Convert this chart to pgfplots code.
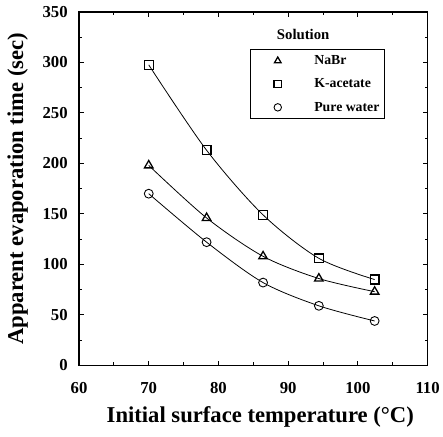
\documentclass[border=0pt]{standalone}
\usepackage{pgfplots}
\pgfplotsset{compat=1.18}
\usepackage{fontspec}
\setmainfont{Liberation Serif}
\begin{document}
\begin{tikzpicture}
\begin{axis}[
  scale only axis,
  width=353bp, height=358bp,
  xmin=60, xmax=110, ymin=0, ymax=350,
  xtick={60,70,...,110}, ytick={0,50,...,350},
  minor xtick={65,75,...,105}, minor ytick={25,75,...,325},
  tick align=inside, ticks=both,
  major tick length=5pt, minor tick length=3pt,
  axis line style={line width=1.6pt},
  every tick/.style={line width=1pt, black},
  /pgf/number format/assume math mode=true,
  ticklabel style={font=\fontsize{17}{17}\selectfont\bfseries},
  xticklabel style={yshift=-14pt},
  yticklabel style={xshift=-8pt},
  xlabel={Initial surface temperature (\textdegree C)},
  ylabel={Apparent evaporation time (sec)},
  xlabel style={font=\fontsize{23}{23}\selectfont\bfseries, at={(axis description cs:0.52,0)}, anchor=north, yshift=-38bp},
  ylabel style={font=\fontsize{23}{23}\selectfont\bfseries, yshift=8pt},
  legend style={at={(0.49,0.894)}, anchor=north west, draw=black, line width=0.6pt,
    font=\fontsize{14}{14}\selectfont\bfseries, row sep=9pt,
    inner xsep=3pt, inner ysep=4pt},
  legend cell align=left,
  legend image code/.code={\path[draw=none] (0,0) -- (60bp,0);\draw[#1,only marks,mark size=3.8pt] plot coordinates {(25bp,0cm)};},
]
\addplot[black, line width=0.8pt, smooth, mark=triangle, mark size=5pt, mark options={line width=1.3pt}]
  coordinates {(70,198) (78.3,146) (86.4,108) (94.4,86) (102.4,73)};
\addlegendentry{NaBr}
\addplot[black, line width=0.8pt, smooth, mark=square, mark size=4.5pt, mark options={line width=1.3pt}]
  coordinates {(70,297.5) (78.3,213) (86.4,149) (94.4,106) (102.4,85)};
\addlegendentry{K-acetate}
\addplot[black, line width=0.8pt, smooth, mark=o, mark size=4.5pt, mark options={line width=0.9pt}]
  coordinates {(70,170) (78.3,122) (86.4,82) (94.4,59) (102.4,44)};
\addlegendentry{Pure water}
\node[font=\fontsize{15}{15}\selectfont\bfseries] at (rel axis cs:0.643,0.936) {Solution};
\end{axis}
\path (current axis.south west) ++(-80bp,-72bp) (current axis.north east) ++(10bp,12bp);
\end{tikzpicture}
\end{document}
